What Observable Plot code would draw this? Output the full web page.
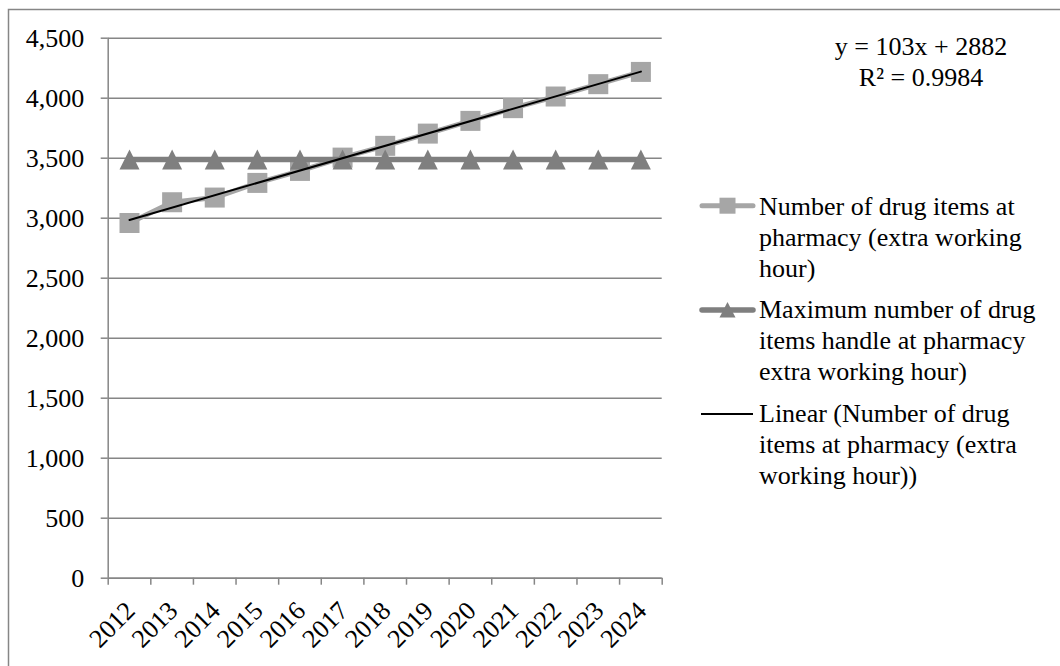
<!DOCTYPE html>
<html>
<head>
<meta charset="utf-8">
<script src="https://cdn.jsdelivr.net/npm/d3@7"></script>
<script src="https://cdn.jsdelivr.net/npm/@observablehq/plot@0.6"></script>
<style>
  body { margin: 0; background: #fff; }
  #chart { width: 1060px; height: 666px; }
</style>
</head>
<body>
<div id="chart"></div>
<script>
// Yearly series
const years = [2012, 2013, 2014, 2015, 2016, 2017, 2018, 2019, 2020, 2021, 2022, 2023, 2024];
const drugItems = [2960, 3133, 3172, 3294, 3394, 3505, 3603, 3705, 3811, 3917, 4014, 4117, 4219];
const maxHandled = [3490, 3490, 3490, 3490, 3490, 3490, 3490, 3490, 3490, 3490, 3490, 3490, 3490];
const yTicks = [0, 500, 1000, 1500, 2000, 2500, 3000, 3500, 4000, 4500];

// Texts
const trendLines = ["y = 103x + 2882", "R\u00B2 = 0.9984"];
const legendItems = [
  ["Number of drug items at", "pharmacy (extra working", "hour)"],
  ["Maximum number of drug", "items handle at pharmacy", "extra working hour)"],
  ["Linear (Number of drug", "items at pharmacy (extra", "working hour))"]
];

const W = 1060, H = 666;
const FONT = "'Liberation Serif', 'Times New Roman', serif";
const GRID = "#868686";
const C1 = "#a6a6a6";
const C2 = "#7f7f7f";

const rows1 = years.map((year, i) => ({year, value: drugItems[i]}));
const rows2 = years.map((year, i) => ({year, value: maxHandled[i]}));
// category boundaries for the x tick marks
const bounds = [years[0] - 0.5, ...years.map(y => y + 0.5)];

// marker shapes filling a 2r x 2r box centred on the point
const squareSym = {draw(ctx, size) {
  const r = Math.sqrt(size / Math.PI);
  ctx.moveTo(-r, -r); ctx.lineTo(r, -r); ctx.lineTo(r, r); ctx.lineTo(-r, r); ctx.closePath();
}};
const triSym = {draw(ctx, size) {
  const r = Math.sqrt(size / Math.PI);
  ctx.moveTo(0, -r); ctx.lineTo(r, r); ctx.lineTo(-r, r); ctx.closePath();
}};

const plot = Plot.plot({
  width: W,
  height: H,
  marginLeft: 107.7,
  marginRight: 398.3,
  marginTop: 37.7,
  marginBottom: 88.3,
  style: {fontFamily: FONT, fontSize: "26px", color: "#000", background: "#fff"},
  x: {type: "linear", domain: [bounds[0], bounds[bounds.length - 1]], label: null},
  y: {domain: [0, 4500], label: null},
  marks: [
    Plot.gridY(yTicks, {stroke: GRID, strokeOpacity: 1, strokeWidth: 1.5}),
    Plot.axisY(yTicks, {tickFormat: d3.format(","), tickSize: 7, tickPadding: 17,
      stroke: GRID, strokeWidth: 1.5, fill: "#000", fontSize: 26, label: null}),
    Plot.axisX(bounds, {tickFormat: () => "", tickSize: 7, stroke: GRID, strokeWidth: 1.5, label: null}),
    Plot.ruleX([bounds[0]], {stroke: GRID, strokeWidth: 1.5}),
    Plot.ruleY([0], {stroke: GRID, strokeWidth: 1.5}),
    Plot.text(years, {x: d => d, text: d => String(d), frameAnchor: "bottom", dx: 7, dy: 34,
      rotate: -45, textAnchor: "end", lineAnchor: "bottom", fontSize: 26, fill: "#000"}),
    Plot.line(rows1, {x: "year", y: "value", stroke: C1, strokeWidth: 5}),
    Plot.dot(rows1, {x: "year", y: "value", symbol: squareSym, r: 10, fill: C1, stroke: null}),
    Plot.line(rows2, {x: "year", y: "value", stroke: C2, strokeWidth: 5.5}),
    Plot.dot(rows2, {x: "year", y: "value", symbol: triSym, r: 10, fill: C2, stroke: null}),
    Plot.linearRegressionY(rows1, {x: "year", y: "value", stroke: "#000", strokeWidth: 2, ci: 0})
  ]
});

const svg = d3.select(plot);

// outer chart border
svg.insert("rect", ":first-child")
  .attr("x", 8.5).attr("y", 9.5).attr("width", 1100).attr("height", 700)
  .attr("fill", "none").attr("stroke", GRID).attr("stroke-width", 1.5);

// trendline equation
const eq = svg.append("g").attr("font-family", FONT).attr("font-size", 26).attr("fill", "#000")
  .attr("text-anchor", "middle");
trendLines.forEach((t, i) => eq.append("text").attr("x", 921).attr("y", 55 + i * 30.5).text(t));

// legend
const lg = svg.append("g").attr("font-family", FONT).attr("font-size", 26).attr("fill", "#000")
  .attr("text-anchor", "start");
const entryBase = [215, 318, 421.7];
const symY = [205.7, 310, 414];
const lineH = 31;
legendItems.forEach((lines, k) => {
  lines.forEach((t, j) => lg.append("text").attr("x", 759).attr("y", entryBase[k] + j * lineH).text(t));
});
// swatches
lg.append("line").attr("x1", 702).attr("x2", 753).attr("y1", symY[0]).attr("y2", symY[0])
  .attr("stroke", C1).attr("stroke-width", 5).attr("stroke-linecap", "round");
lg.append("rect").attr("x", 727.5 - 8).attr("y", symY[0] - 8).attr("width", 16).attr("height", 16).attr("fill", C1);
lg.append("line").attr("x1", 702).attr("x2", 753).attr("y1", symY[1]).attr("y2", symY[1])
  .attr("stroke", C2).attr("stroke-width", 5.5).attr("stroke-linecap", "round");
lg.append("path").attr("d", `M727.5,${symY[1] - 8}L735.5,${symY[1] + 7.5}L719.5,${symY[1] + 7.5}Z`).attr("fill", C2);
lg.append("line").attr("x1", 701).attr("x2", 753).attr("y1", symY[2]).attr("y2", symY[2])
  .attr("stroke", "#000").attr("stroke-width", 2);

document.getElementById("chart").appendChild(plot);
</script>
</body>
</html>
